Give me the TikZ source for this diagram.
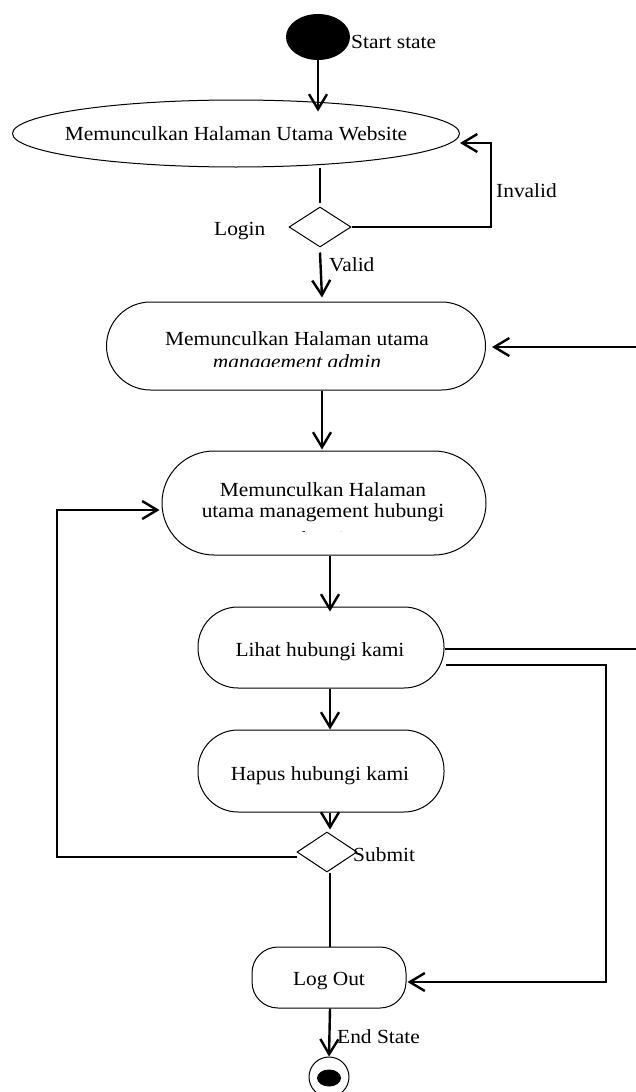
\documentclass[tikz,border=0pt]{standalone}
\usepackage{fontspec}
\setmainfont{Liberation Serif}[FakeStretch=1.07]
\usetikzlibrary{arrows.meta,shapes.geometric}
\begin{document}
\begin{tikzpicture}[x=1pt,y=-1pt,
  outline/.style={draw=black,line width=1pt,inner sep=0pt},
  stadium/.style={outline,rectangle},
  conn/.style={line width=2.4pt},
  thinconn/.style={line width=1.4pt},
  arr/.style={line width=2.4pt,-{Straight Barb[length=15pt,width=18pt]}},
  lbl/.style={font=\fontsize{20}{22}\selectfont,inner sep=0pt,anchor=base},
  lblw/.style={lbl,anchor=base west},
]
\useasboundingbox[fill=white] (0,0) rectangle (636,1092);

% ---------- shapes ----------
\node[fill=black,ellipse,minimum width=64pt,minimum height=46pt,inner sep=0pt] (start) at (318,37) {};
\node[outline,ellipse,minimum width=447pt,minimum height=67pt] (e1) at (236,133.5) {};
\node[outline,diamond,minimum width=62pt,minimum height=40pt] (d1) at (320,227) {};
\node[stadium,minimum width=379pt,minimum height=88pt,rounded corners=44pt] (e2) at (296,346) {};
\node[stadium,minimum width=324pt,minimum height=104pt,rounded corners=52pt] (e3) at (324,503) {};
\node[stadium,minimum width=246pt,minimum height=81pt,rounded corners=40pt] (lihat) at (321,647.5) {};
\node[stadium,minimum width=246pt,minimum height=82pt,rounded corners=40pt] (hapus) at (321,771) {};
\node[outline,diamond,minimum width=60pt,minimum height=40pt] (d2) at (327,852) {};
\node[stadium,minimum width=154pt,minimum height=61pt,rounded corners=26pt] (logout) at (329,977.5) {};
\node[outline,circle,minimum size=40pt] (endo) at (329,1077) {};
\node[fill=black,ellipse,minimum width=24pt,minimum height=17pt,inner sep=0pt] (endi) at (329,1078) {};

% ---------- texts ----------
\node[lblw] (tstart) at (351,48) {Start state};
\node[lbl] (te1) at (236,140) {Memunculkan Halaman Utama Website};
\node[lblw] (tinv) at (496,197) {Invalid};
\node[lblw] (tlogin) at (214,235) {Login};
\node[lblw] (tvalid) at (329,271) {Valid};
\begin{scope}
  \clip (110,305) rectangle (480,366);
  \node[lbl] (te2a) at (297,345) {Memunculkan Halaman utama};
  \node[lbl] (te2b) at (297,368) {\itshape management admin};
\end{scope}
\begin{scope}
  \clip (165,455) rectangle (480,531);
  \node[lbl] (te3a) at (323,496) {Memunculkan Halaman};
  \node[lbl] (te3b) at (323,517) {utama management hubungi};
  \node[lbl] (te3c) at (323,545) {kami};
\end{scope}
\node[lbl] (tlihat) at (320,656) {Lihat hubungi kami};
\node[lbl] (thapus) at (320,780) {Hapus hubungi kami};
\node[lblw] (tsubmit) at (353,861) {Submit};
\node[lbl] (tlogout) at (329,985) {Log Out};
\node[lblw] (tend) at (337,1043) {End State};

% ---------- helper coordinates ----------
\coordinate (cx) at (330,0);
\coordinate (inv) at (491,143);
\coordinate (r1) at (636,347);
\coordinate (r2) at (636,649);
\coordinate (r3) at (606,665);
\coordinate (r4) at (606,982);
\coordinate (lp) at (57,510);
\coordinate (lpb) at (57,857);

% ---------- connectors ----------
\draw[arr] (start) -- ([yshift=-12pt]start |- e1.north);
\draw[conn] ([xshift=84pt]e1.south) -- ([yshift=4pt]d1.north);
\draw[arr] (d1.east) -| (inv) -- (e1.east |- inv);
\draw[arr] ([yshift=-5pt]d1.south) -- ([xshift=2pt,yshift=4pt]d1.south |- e2.north);
\draw[arr] (r1) -- ([xshift=6pt]e2.east |- r1);
\draw[arr] ([xshift=26pt]e2.south) -- ([xshift=26pt,yshift=1pt]e2.south |- e3.north);
\draw[arr] (e3.south -| cx) -- ([yshift=-5pt]lihat.north -| cx);
\draw[conn] (lihat.east |- r2) -- (r2);
\draw[arr] ([xshift=1pt]lihat.east |- r3) -- (r3) -- (r4) -- ([xshift=1pt]logout.east |- r4);
\draw[arr] (lihat.south -| cx) -- (hapus.north -| cx);
\draw[arr] (hapus.south -| cx) -- ([yshift=2pt]d2.north -| cx);
\draw[arr] (d2.west |- lpb) -- (lpb) -- (lp) -- ([xshift=-2pt]e3.west |- lp);
\draw[thinconn] (d2.south -| cx) -- (logout.north -| cx);
\draw[arr] (logout.south -| cx) -- (endo.north);
\end{tikzpicture}
\end{document}
